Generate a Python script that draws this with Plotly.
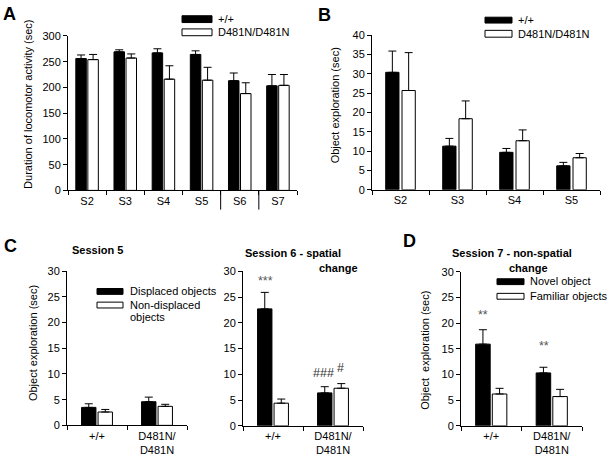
import plotly.graph_objects as go

W, H = 609, 464
FONT = "Liberation Sans, Arial, sans-serif"

# ---------------- data ----------------
a_cats = ["S2", "S3", "S4", "S5", "S6", "S7"]
a_wt = [256, 269, 267, 264, 213, 203]
a_wt_err = [7, 4, 8, 7, 15, 22]
a_mut = [254, 257, 216, 214, 188, 204]
a_mut_err = [10, 8, 26, 25, 21, 21]

b_cats = ["S2", "S3", "S4", "S5"]
b_wt = [30.4, 11.3, 9.7, 6.2]
b_wt_err = [5.5, 2.0, 1.0, 0.9]
b_mut = [25.7, 18.4, 12.7, 8.3]
b_mut_err = [9.8, 4.6, 2.8, 1.1]

geno_cats = ["+/+", "D481N/D481N"]
geno_ticktext = ["+/+", "D481N/<br>D481N"]

c5_disp = [3.5, 4.6]
c5_disp_err = [0.7, 0.9]
c5_nondisp = [2.6, 3.7]
c5_nondisp_err = [0.5, 0.4]

c6_disp = [22.7, 6.4]
c6_disp_err = [3.2, 1.2]
c6_nondisp = [4.4, 7.3]
c6_nondisp_err = [0.8, 0.9]

d_novel = [15.9, 10.3]
d_novel_err = [2.8, 1.1]
d_familiar = [6.2, 5.7]
d_familiar_err = [1.1, 1.4]

# ---------------- helpers ----------------
def px(x):
    return x / W

def py(y):
    return 1 - y / H

fig = go.Figure()

def add_pair(axn, cats, v1, e1, v2, e2, bw, gap):
    xa = "x" if axn == 1 else f"x{axn}"
    ya = "y" if axn == 1 else f"y{axn}"
    for vals, errs, fill, off in [(v1, e1, "black", -(bw + gap / 2)), (v2, e2, "white", gap / 2)]:
        fig.add_trace(go.Bar(
            x=cats, y=vals, xaxis=xa, yaxis=ya,
            width=bw, offset=off,
            marker=dict(color=fill, line=dict(color="black", width=1)),
            error_y=dict(type="data", array=errs, arrayminus=[0] * len(errs),
                         symmetric=False, color="black", thickness=1, width=4),
            showlegend=False,
        ))

def set_axes(axn, xdom, ydom, yrange, dtick, cats, ticktext=None):
    xk = "xaxis" if axn == 1 else f"xaxis{axn}"
    yk = "yaxis" if axn == 1 else f"yaxis{axn}"
    ya = "y" if axn == 1 else f"y{axn}"
    xa = "x" if axn == 1 else f"x{axn}"
    fig.layout[xk] = dict(
        domain=[px(xdom[0]), px(xdom[1])], anchor=ya,
        type="category", categoryorder="array", categoryarray=cats,
        tickmode="array", tickvals=cats, ticktext=ticktext or cats,
        range=[-0.5, len(cats) - 0.5],
        showline=True, linecolor="black", linewidth=1,
        ticks="outside", tickson="boundaries", ticklen=4, tickcolor="black",
        showgrid=False, tickfont=dict(size=11, color="black", family=FONT),
        fixedrange=True,
    )
    fig.layout[yk] = dict(
        domain=[py(ydom[1]), py(ydom[0])], anchor=xa,
        range=yrange, dtick=dtick, tick0=0,
        showline=True, linecolor="black", linewidth=1,
        ticks="outside", ticklen=4, tickcolor="black",
        showgrid=False, zeroline=False,
        tickfont=dict(size=11, color="black", family=FONT),
        fixedrange=True,
    )

# Panel A
add_pair(1, a_cats, a_wt, a_wt_err, a_mut, a_mut_err, 0.275, 0.04)
set_axes(1, (68, 297), (30.7, 189.3), [0, 300], 50, a_cats)
# Panel B
add_pair(2, b_cats, b_wt, b_wt_err, b_mut, b_mut_err, 0.233, 0.053)
set_axes(2, (372, 600), (30, 188.7), [0, 40], 5, b_cats)
# Panel C - session 5
add_pair(3, geno_cats, c5_disp, c5_disp_err, c5_nondisp, c5_nondisp_err, 0.24, 0.035)
set_axes(3, (67, 187), (272.3, 430.5), [0, 30], 5, geno_cats, geno_ticktext)
# Panel C - session 6
add_pair(4, geno_cats, c6_disp, c6_disp_err, c6_nondisp, c6_nondisp_err, 0.24, 0.035)
set_axes(4, (243, 363), (272.3, 431), [0, 30], 5, geno_cats, geno_ticktext)
# Panel D
add_pair(5, geno_cats, d_novel, d_novel_err, d_familiar, d_familiar_err, 0.24, 0.035)
set_axes(5, (461, 582), (272.7, 431), [0, 30], 5, geno_cats, geno_ticktext)

shapes = []
annotations = []

# separator lines in panel A (S5|S6, S6|S7)
for xv in [3.5, 4.5]:
    shapes.append(dict(type="line", xref="x", yref="paper", x0=xv, x1=xv,
                       y0=py(189.3), y1=py(209), line=dict(color="black", width=1)))

def legend_item(x0, x1, y0, y1, fill):
    shapes.append(dict(type="rect", xref="paper", yref="paper",
                       x0=px(x0), x1=px(x1), y0=py(y1), y1=py(y0),
                       fillcolor=fill, line=dict(color="black", width=1)))

def text(x, y, s, size=11, bold=False, xanchor="left", angle=0, color="black"):
    annotations.append(dict(
        xref="paper", yref="paper", x=px(x), y=py(y), text=(f"<b>{s}</b>" if bold else s),
        showarrow=False, xanchor=xanchor, yanchor="middle", textangle=angle,
        font=dict(size=size, family=FONT, color=color),
    ))

# legends
legend_item(182, 212, 10, 17, "black")
legend_item(182, 212, 23.5, 30.5, "white")
text(216, 13.5, "+/+")
text(216, 27, "D481N/D481N")

legend_item(485, 512, 11.5, 17.5, "black")
legend_item(485, 512, 25, 32, "white")
text(516, 14.5, "+/+")
text(516, 28.5, "D481N/D481N")

legend_item(97, 123, 290, 296, "black")
legend_item(97, 123, 304, 310, "white")
text(128, 292.7, "Displaced objects", size=11)
text(128, 306.7, "Non-displaced", size=11)
text(128, 319.3, "objects", size=11)

legend_item(497, 524, 280, 286, "black")
legend_item(497, 524, 295, 301, "white")
text(528, 282.7, "Novel object", size=11)
text(528, 297.7, "Familiar objects", size=11)

# panel letters
text(1, 8.5, "A", size=18, bold=True)
text(316, 9, "B", size=18, bold=True)
text(2, 246, "C", size=18, bold=True)
text(401, 241, "D", size=18, bold=True)

# panel titles
text(97.5, 250.5, "Session 5", size=11, bold=True, xanchor="center")
text(293, 254, "Session 6 - spatial", size=11, bold=True, xanchor="center")
text(338.5, 268.5, "change", size=11, bold=True, xanchor="center")
text(512, 253.5, "Session 7 - non-spatial", size=11, bold=True, xanchor="center")
text(528.5, 268.5, "change", size=11, bold=True, xanchor="center")

# y-axis titles
text(28, 101.5, "Duration of locomotor activity (sec)", size=11, xanchor="center", angle=-90)
text(335, 102, "Object exploration (sec)", size=11, xanchor="center", angle=-90)
text(33, 346, "Object exploration (sec)", size=11, xanchor="center", angle=-90)
text(425, 354, "Object  exploration (sec)", size=11, xanchor="center", angle=-90)

# significance marks (data coordinates)
def mark(axn, xcat, yval, s, xshift=0, color="#333333"):
    annotations.append(dict(
        xref=f"x{axn}", yref=f"y{axn}", x=xcat, y=yval, text=s, showarrow=False,
        xanchor="center", yanchor="middle", xshift=xshift,
        font=dict(size=12.5, family=FONT, color=color),
    ))

mark(4, "+/+", 28.2, "***", xshift=-8, color="#555555")
mark(4, "D481N/D481N", 10.2, "###", xshift=-10)
mark(4, "D481N/D481N", 11.3, "#", xshift=7)
mark(5, "+/+", 21.6, "**", xshift=-8, color="#555555")
mark(5, "D481N/D481N", 15.6, "**", xshift=-8, color="#555555")

fig.update_layout(
    width=W, height=H,
    margin=dict(l=0, r=0, t=0, b=0),
    paper_bgcolor="white", plot_bgcolor="white",
    barmode="overlay",
    showlegend=False,
    shapes=shapes, annotations=annotations,
    font=dict(family=FONT, color="black"),
)

fig.write_html("out.html", config={"displayModeBar": False, "staticPlot": True},
               post_script="document.body.style.margin='0';document.body.style.overflow='hidden';")
